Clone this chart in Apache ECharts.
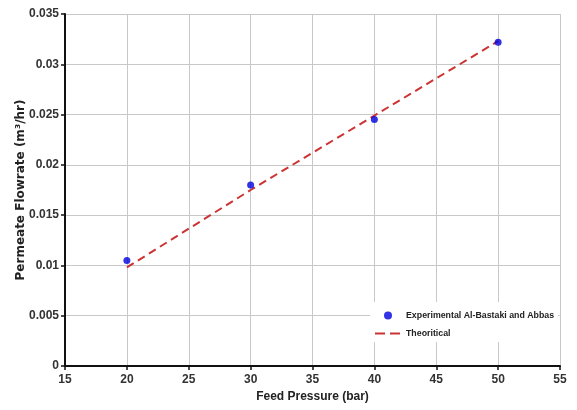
<!DOCTYPE html>
<html><head><meta charset="utf-8">
<script src="https://cdn.jsdelivr.net/npm/echarts@6/dist/echarts.min.js"></script>
<style>html,body{margin:0;padding:0;background:#fff}#c{width:577px;height:410px}</style>
</head><body><div id="c"></div>
<script>
const pressures = [20, 30, 40, 50];
const experimental = [0.0105, 0.0180, 0.0245, 0.0322];
const theoretical = [0.0098, 0.0175, 0.0249, 0.0323];
const seriesNames = ['Experimental Al-Bastaki and Abbas', 'Theoritical'];

const font = 'Liberation Sans, Arial, sans-serif';
const chart = echarts.init(document.getElementById('c'));
chart.setOption({
  animation: false,
  backgroundColor: '#fff',
  grid: {left: 65, right: 17, top: 14, bottom: 44, containLabel: false, outerBoundsMode: 'none'},
  legend: {
    orient: 'vertical', left: 370, top: 302,
    backgroundColor: '#fff', padding: [9, 4, 4, 4], itemGap: 9,
    itemWidth: 26, itemHeight: 8,
    textStyle: {fontFamily: font, fontWeight: 'bold', fontSize: 8.8, color: '#222'},
    data: [
      {name: seriesNames[0], icon: 'circle', itemStyle: {color: '#0000e0'}},
      {name: seriesNames[1], itemStyle: {opacity: 0},
       lineStyle: {color: '#cc3333', width: 2, type: [10, 5]}}
    ]
  },
  xAxis: {
    type: 'value', min: 15, max: 55, interval: 5,
    name: 'Feed Pressure (bar)', nameLocation: 'middle', nameGap: 25, nameMoveOverlap: false,
    nameTextStyle: {fontFamily: font, fontWeight: 'bold', fontSize: 12, color: '#222'},
    axisLine: {onZero: false, lineStyle: {color: '#111', width: 2}},
    axisTick: {show: true, length: 4, lineStyle: {color: '#111', width: 1.5}},
    axisLabel: {fontFamily: font, fontWeight: 'bold', fontSize: 12, color: '#333', margin: 8},
    splitLine: {show: true, lineStyle: {color: '#c8c8c8', width: 1}}
  },
  yAxis: {
    type: 'value', min: 0, max: 0.035, interval: 0.005,
    name: 'Permeate Flowrate (m³/hr)', nameLocation: 'middle', nameGap: 38, nameMoveOverlap: false,
    nameTextStyle: {fontFamily: 'DejaVu Sans, sans-serif', fontWeight: 'bold', fontSize: 12, color: '#222'},
    axisLine: {show: true, lineStyle: {color: '#111', width: 2}},
    axisTick: {show: true, length: 4, lineStyle: {color: '#111', width: 1.5}},
    axisLabel: {fontFamily: font, fontWeight: 'bold', fontSize: 12, color: '#333', margin: 6,
      formatter: v => String(+v.toFixed(3))},
    splitLine: {show: true, lineStyle: {color: '#c8c8c8', width: 1}}
  },
  series: [
    {
      name: seriesNames[1], type: 'line', z: 2,
      data: pressures.map((p, i) => [p, theoretical[i]]),
      showSymbol: false, symbol: 'none',
      lineStyle: {color: '#cc3333', width: 2, type: [8, 5]},
      itemStyle: {color: '#cc3333'}
    },
    {
      name: seriesNames[0], type: 'scatter', z: 3,
      data: pressures.map((p, i) => [p, experimental[i]]),
      symbol: 'circle', symbolSize: 7,
      itemStyle: {color: '#0000e0'}
    }
  ]
});
</script></body></html>
